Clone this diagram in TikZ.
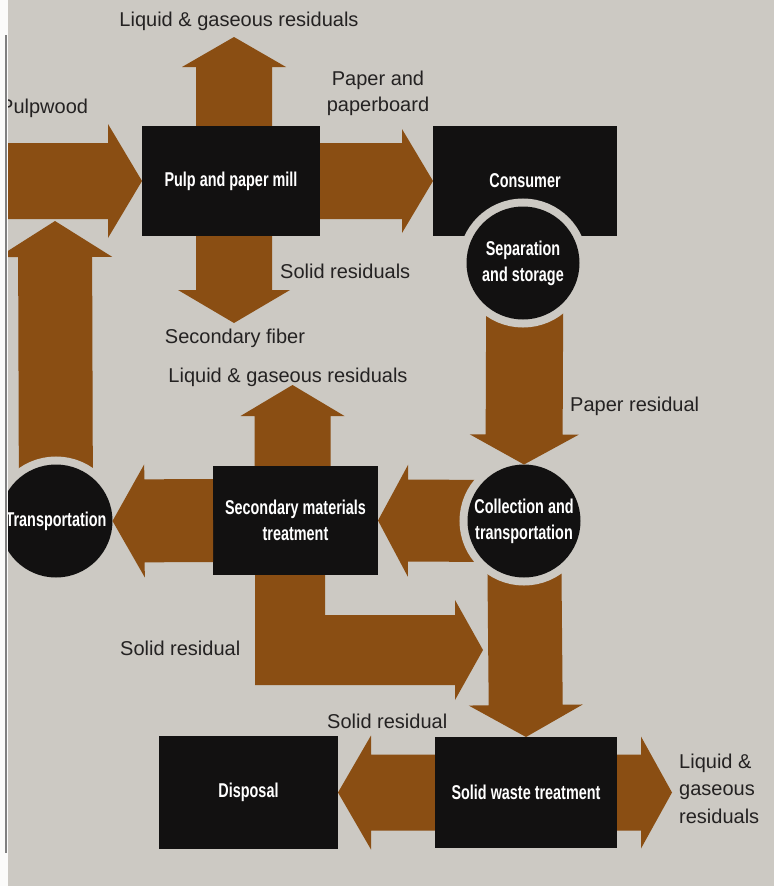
\documentclass[tikz,border=0pt]{standalone}
\usepackage{fontspec}
\setmainfont{Liberation Sans}
\newfontfamily\stagefont{Liberation Sans}[FakeStretch=0.72]
\usetikzlibrary{calc,positioning}

\pgfdeclarelayer{backdrop}
\pgfdeclarelayer{flows}
\pgfdeclarelayer{edge}
\pgfsetlayers{backdrop,flows,main,edge}

\definecolor{paper}{RGB}{204,201,195}
\definecolor{flowbrown}{RGB}{138,78,19}
\definecolor{stageblack}{RGB}{18,17,17}
\definecolor{ink}{RGB}{36,34,34}

\tikzset{
  stage/.style={fill=stageblack, text=white, align=center, inner sep=0pt, outer sep=0pt,
    font=\stagefont\bfseries\fontsize{20}{26}\selectfont},
  stagebox/.style 2 args={stage, minimum width=#1, minimum height=#2},
  stagedisc/.style={stage, circle, minimum size=113pt,
    preaction={draw=paper, line width=16pt}},
  flowlabel/.style={text=ink, inner sep=0pt, font=\fontsize{20}{26}\selectfont},
  flow shaft/.store in=\flowshaft,
  flow head/.store in=\flowhead,
  flow tip/.store in=\flowtip,
  flow shaft=38pt, flow head=56pt, flow tip=32pt
}

% block arrow from tail #2 to tip #3
\newcommand{\flowarrow}[3][]{%
  \begin{scope}[#1]
    \coordinate (fb) at ($(#3)!\flowtip!(#2)$);
    \fill [flowbrown]
      ($(#2)!\flowshaft!90:(#3)$) -- ($(fb)!\flowshaft!90:(#3)$)
      -- ($(fb)!\flowhead!90:(#3)$) -- (#3)
      -- ($(fb)!\flowhead!-90:(#3)$) -- ($(fb)!\flowshaft!-90:(#3)$)
      -- ($(#2)!\flowshaft!-90:(#3)$) -- cycle;
  \end{scope}}

\begin{document}
\begin{tikzpicture}[x=1pt, y=-1pt]
  \useasboundingbox (0,0) rectangle (774,886);
  \begin{pgfonlayer}{backdrop}
    \fill [paper] (0,0) rectangle (774,886);
  \end{pgfonlayer}

  % stages
  \node (mill)      [stagebox={178pt}{110pt}] at (231,181)     {Pulp and paper mill};
  \node (consumer)  [stagebox={184pt}{110pt}, right=113pt of mill] {Consumer};
  \node (secondary) [stagebox={165pt}{109pt}] at (295.5,520.5) {Secondary materials\\treatment};
  \node (waste)     [stagebox={182pt}{111pt}] at (526,792.5)   {Solid waste treatment};
  \node (disposal)  [stagebox={179pt}{113pt}, left=97pt of waste] {Disposal};
  \node (transport) [stagedisc] at (56,521)  {Transportation};
  \node (collect)   [stagedisc] at (524,521) {Collection and\\transportation};

  % free ends
  \coordinate (woodin)    at (0,181);
  \coordinate (millup)    at ([xshift=3pt]mill.north);
  \coordinate (millair)   at (234,37);
  \coordinate (milldown)  at ([xshift=3pt]mill.south);
  \coordinate (millfiber) at (234,323);
  \coordinate (secup)     at ([xshift=-3pt]secondary.north);
  \coordinate (secair)    at (292.5,385);
  \coordinate (woodtip)   at (55,221);
  \coordinate (wastevent) at (672,792.5);
  \coordinate (ltip)      at (483,650);

  \begin{pgfonlayer}{flows}
    \flowarrow[flow head=57pt, flow tip=34pt]{woodin}{mill.west}
    \flowarrow[flow head=52pt, flow tip=30pt]{millup}{millair}
    \flowarrow[flow head=56pt, flow tip=33pt]{milldown}{millfiber}
    \flowarrow[flow head=52pt, flow tip=31pt]{mill.east}{consumer.west}
    \flowarrow[flow shaft=37pt, flow head=57pt, flow tip=36pt]{transport.center}{woodtip}
    \flowarrow[flow shaft=41pt, flow head=56pt, flow tip=30pt]{collect.center}{secondary.east}
    \flowarrow[flow shaft=37pt, flow head=57pt, flow tip=32pt]{collect.center}{waste.north}
    \flowarrow[flow head=52pt, flow tip=31pt]{secup}{secair}
    \flowarrow[flow head=57pt, flow tip=33pt]{waste.west}{disposal.east}
    \flowarrow[flow head=56pt, flow tip=31pt]{waste.east}{wastevent}
    % solid residual, bent
    \fill [flowbrown] (255,575) -- (325,575) -- (325,615) -- (455,615) -- (455,600)
      -- (ltip) -- (455,700) -- (455,685) -- (255,685) -- cycle;
  \end{pgfonlayer}

  \flowarrow[flow shaft=38.5pt, flow head=54.5pt, flow tip=30pt]{consumer.south}{collect.north}
  \flowarrow[flow shaft=41.5pt, flow head=56.5pt, flow tip=32pt]{secondary.west}{transport.east}
  \node (sep) [stagedisc] at (523,263) {Separation\\and storage};

  % labels
  \node (lgtop)     [flowlabel, anchor=base] at (239,27)  {Liquid \& gaseous residuals};
  \node (pulpwood)  [flowlabel, anchor=base west] at (0,113) {Pulpwood};
  \node (paperboard)[flowlabel, anchor=base, align=center] at (378,111) {Paper and\\paperboard};
  \node (solidres)  [flowlabel, anchor=base west] at (280,278) {Solid residuals};
  \node (fiber)     [flowlabel, anchor=base] at (235,343) {Secondary fiber};
  \node (lgmid)     [flowlabel, anchor=base] at (288,382) {Liquid \& gaseous residuals};
  \node (paperres)  [flowlabel, anchor=base west] at (570,411) {Paper residual};
  \node (solidsec)  [flowlabel, anchor=base west] at (120,655) {Solid residual};
  \node (soliddisp) [flowlabel, anchor=base west] at (327,728) {Solid residual};
  \node (lgbottom)  [flowlabel, anchor=base west, align=left,
                     font=\fontsize{20}{27.5}\selectfont] at (679,823) {Liquid \&\\gaseous\\residuals};

  \begin{pgfonlayer}{edge}
    \fill [white!92!paper] (0,0) rectangle (8,886);
    \draw [gray, line width=1.2pt] (6,35) -- (6,853);
  \end{pgfonlayer}
\end{tikzpicture}
\end{document}
